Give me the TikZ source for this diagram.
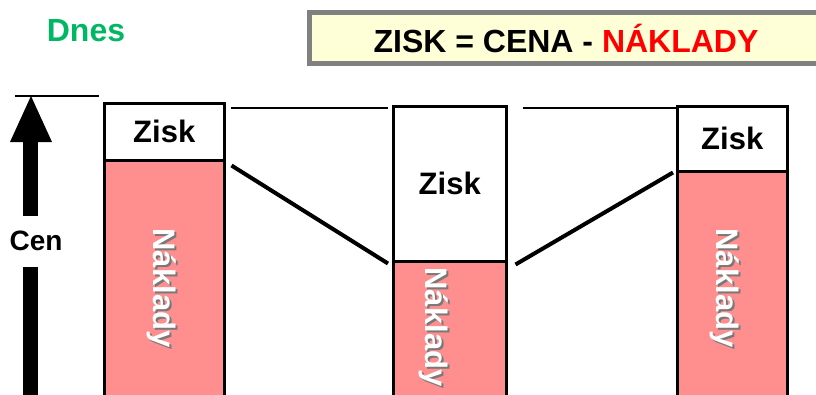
\documentclass[tikz,border=0pt]{standalone}
\usepackage{fontspec}
\setmainfont{Liberation Sans}
\usetikzlibrary{calc}
\definecolor{dnesgreen}{RGB}{0,184,100}
\definecolor{pinkfill}{RGB}{255,143,143}
\definecolor{titlefill}{RGB}{255,255,215}
\definecolor{titleborder}{RGB}{128,128,128}
\definecolor{shadowgray}{RGB}{120,120,120}
\tikzset{
  bigfont/.style={font=\fontsize{32}{32}\selectfont\bfseries},
  midfont/.style={font=\fontsize{28}{28}\selectfont\bfseries},
  ziskfont/.style={font=\fontsize{31}{31}\selectfont\bfseries},
  ziskbox/.style={draw=black, line width=2.5pt, fill=white, anchor=north west, inner sep=0pt, ziskfont},
  costbox/.style={draw=black, line width=2.5pt, fill=pinkfill, anchor=north west, inner sep=0pt},
  costlabel/.style={ziskfont, text=white, rotate=-90, inner sep=0pt},
  costshadow/.style={ziskfont, text=shadowgray, rotate=-90, inner sep=0pt},
  thinline/.style={line width=1.6pt},
  thickline/.style={line width=4pt},
}
\begin{document}
\begin{tikzpicture}[x=1pt,y=-1pt]
\useasboundingbox (0,0) rectangle (816,394);
\clip (0,0) rectangle (816,394);
% title
\node[bigfont, text=dnesgreen] (dnes) at (86,31) {Dnes};
\node[draw=titleborder, line width=5pt, fill=titlefill, anchor=north west,
      minimum width=530pt, minimum height=51pt, inner sep=0pt] (titlebox) at (307,10) {};
\node[bigfont] (formula) at (566,38) {ZISK = CENA - \textcolor{red}{NÁKLADY}};
% price arrow
\coordinate (reftopL) at (15,96);
\coordinate (reftopR) at (99,96);
\draw[thinline] (reftopL) -- (reftopR);
\coordinate (atip) at (31,96);
\fill (atip) -- (52,142) -- (10,142) -- cycle;
\node[midfont] (cen) at (36,241) {Cen};
\coordinate (abase) at (30,141);
\coordinate (abottom) at (30,396);
\draw[line width=15pt] (abase) -- (30,216);
\draw[line width=15pt] (30,267) -- (abottom);
% bar 1
\node[costbox, minimum width=120pt, minimum height=250pt] (cost1) at (103,159) {};
\node[ziskbox, minimum width=120pt, minimum height=57pt] (zisk1) at (103,102) {Zisk};
\node[costshadow] at (164,290) {Náklady};
\node[costlabel] (nak1) at (162,288) {Náklady};
% bar 2
\node[costbox, minimum width=113pt, minimum height=150pt] (cost2) at (392,260) {};
\node[ziskbox, minimum width=113pt, minimum height=155pt] (zisk2) at (392,105) {Zisk};
\node[costshadow] at (436,329) {Náklady};
\node[costlabel] (nak2) at (434,327) {Náklady};
% bar 3
\node[costbox, minimum width=110pt, minimum height=240pt] (cost3) at (676,170) {};
\node[ziskbox, minimum width=110pt, minimum height=65pt] (zisk3) at (676,105) {Zisk};
\node[costshadow] at (727,290) {Náklady};
\node[costlabel] (nak3) at (725,288) {Náklady};
% connectors
\draw[thinline] ($(zisk1.north east |- zisk2.north)+(5,3)$) -- ($(zisk2.north west)+(-4,3)$);
\draw[thinline] ($(zisk2.north east)+(15,3)$) -- ($(zisk3.north west)+(0,3)$);
\draw[thickline] ($(zisk1.south east)+(6,4)$) -- ($(zisk2.south west)+(-4,1)$);
\draw[thickline] ($(zisk2.south east)+(8,2)$) -- ($(zisk3.south west)+(-3,0)$);
\end{tikzpicture}
\end{document}
